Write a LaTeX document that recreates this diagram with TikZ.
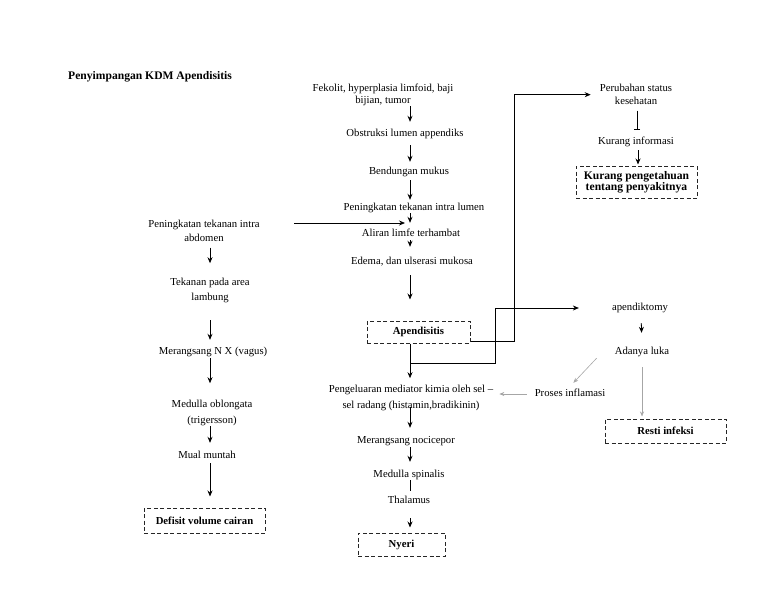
\documentclass[tikz,border=0pt]{standalone}
\usepackage{fontspec}
\setmainfont{Liberation Serif}
\usetikzlibrary{arrows.meta,calc}
\begin{document}
\begin{tikzpicture}[x=1pt,y=-1pt,
  txt/.style={inner sep=0pt, align=center, text height=7.5pt, text depth=2.5pt, anchor=base, font=\fontsize{10.7}{14}\selectfont},
  ml/.style={inner sep=0pt, align=center, anchor=north, font=\fontsize{10.7}{#1}\selectfont},
  arr/.style={-{Stealth[length=6pt,width=5pt]}, line width=0.8pt},
  ln/.style={line width=0.8pt},
  barr/.style={-{Bar[width=6pt,line width=0.8pt]}, line width=0.8pt},
  garr/.style={-{Stealth[length=5pt,width=4pt]}, line width=0.6pt, draw=black!35},
  dbox/.style={draw=black!85, dashed, dash pattern=on 4pt off 2.5pt, line width=1pt, inner sep=0pt, align=center, font=\bfseries\fontsize{10.7}{11}\selectfont},
]
\useasboundingbox (0,0) rectangle (768,594);

% title
\node[txt, anchor=base west, font=\bfseries\fontsize{11.6}{14}\selectfont] (title) at (68,79.5) {Penyimpangan KDM Apendisitis};

% centre column
\coordinate (cx) at (410,0);
\node[ml=12] (fek) at (383,84.2) {Fekolit, hyperplasia limfoid, baji\\bijian, tumor};
\node[txt] (obs) at (405,136.5) {Obstruksi lumen appendiks};
\node[txt] (bend) at (409,174.5) {Bendungan mukus};
\node[txt] (pil) at (414,210.5) {Peningkatan tekanan intra lumen};
\node[txt] (alf) at (411,236.5) {Aliran limfe terhambat};
\node[txt] (ede) at (412,264.5) {Edema, dan ulserasi mukosa};
\node[dbox, minimum width=103pt, minimum height=22pt] (apd) at (418.5,332) {Apendisitis};
\node[ml=16] (pmk) at (411,385.2) {Pengeluaran mediator kimia oleh sel --\\sel radang (histamin,bradikinin)};
\node[txt] (mno) at (406,443.5) {Merangsang nocicepor};
\node[txt] (msp) at (409,477.5) {Medulla spinalis};
\node[txt] (thl) at (409,503.5) {Thalamus};
\node[dbox, minimum width=87pt, minimum height=23pt] (nye) at (401.5,544.5) {Nyeri};

% left column
\coordinate (lx) at (210,0);
\node[ml=14] (pta) at (204,220.2) {Peningkatan tekanan intra\\abdomen};
\node[ml=15] (tpa) at (210,278.2) {Tekanan pada area\\lambung};
\node[txt] (mnx) at (213,354.5) {Merangsang N X (vagus)};
\node[ml=16] (mob) at (212,400.2) {Medulla oblongata\\(trigersson)};
\node[txt] (mmu) at (207,458.5) {Mual muntah};
\node[dbox, minimum width=121pt, minimum height=25pt] (dvc) at (204.5,520.5) {Defisit volume cairan};

% right column
\coordinate (rx) at (637,0);
\node[ml=13] (psk) at (636,84.2) {Perubahan status\\kesehatan};
\node[txt] (kin) at (636,144.5) {Kurang informasi};
\node[dbox, minimum width=121pt, minimum height=32pt, font=\bfseries\fontsize{11.6}{10.8}\selectfont] (kpt) at (636.5,182) {Kurang pengetahuan\\tentang penyakitnya};
\node[txt] (apk) at (640,310.5) {apendiktomy};
\node[txt] (adl) at (642,354.5) {Adanya luka};
\node[txt] (pin) at (570,396.5) {Proses inflamasi};
\node[dbox, minimum width=121pt, minimum height=24pt] (rin) at (665.5,431) {Resti infeksi};

% centre connectors
\draw[arr, shorten >=7pt] (fek.south -| cx) -- (obs.north -| cx);
\draw[arr, shorten <=6pt, shorten >=5pt] (obs.south -| cx) -- (bend.north -| cx);
\draw[arr, shorten <=3pt, shorten >=3pt] (bend.south -| cx) -- (pil.north -| cx);
\draw[arr, shorten >=6pt] (pil.south -| cx) -- (alf.north -| cx);
\draw[arr, shorten <=1pt, shorten >=10pt] (alf.south -| cx) -- (ede.north -| cx);
\draw[arr, shorten <=8pt, shorten >=21pt] (ede.south -| cx) -- (apd.north -| cx);
\draw[arr, shorten >=7pt] (apd.south -| cx) -- (pmk.north -| cx);
\draw[arr, shorten <=-4pt, shorten >=8pt] (pmk.south -| cx) -- (mno.north -| cx);
\draw[arr, shorten <=1pt, shorten >=8pt] (mno.south -| cx) -- (msp.north -| cx);
\draw[ln, shorten >=5pt] (msp.south -| cx) -- (thl.north -| cx);
\draw[arr, shorten <=12pt, shorten >=5pt] (thl.south -| cx) -- (nye.north -| cx);

% abdomen pressure into lumen flow
\coordinate (pa) at (294,223);
\draw[arr, shorten >=5pt] (pa) -- (pa -| cx);

% left connectors
\draw[arr, shorten <=5.5pt, shorten >=15pt] (pta.south -| lx) -- (tpa.north -| lx);
\draw[arr, shorten <=17pt, shorten >=7pt] (tpa.south -| lx) -- (mnx.north -| lx);
\draw[arr, shorten <=1pt, shorten >=17pt] (mnx.south -| lx) -- (mob.north -| lx);
\draw[arr, shorten >=8pt] (mob.south -| lx) -- (mmu.north -| lx);
\draw[arr, shorten <=2pt, shorten >=11pt] (mmu.south -| lx) -- (dvc.north -| lx);

% right connectors
\draw[barr, shorten <=5.5pt, shorten >=7pt] (psk.south -| rx) -- (kin.north -| rx);
\draw[arr, shorten <=3pt, shorten >=1pt] ([xshift=1pt]kin.south -| rx) -- ([xshift=1pt]kpt.north -| rx);
\draw[arr, shorten <=10pt, shorten >=14pt] ([xshift=1pt]apk.south) -- (adl.north);

% Apendisitis to Perubahan status
\coordinate (a1) at ($(apd.east)+(0,9)$);
\coordinate (r1) at (514,0);
\draw[arr, shorten >=9pt] (a1) -| (r1 |- psk.west) -- (psk.west);

% Apendisitis to apendiktomy
\coordinate (j1) at (410,363);
\coordinate (r2) at (495,0);
\draw[arr, shorten >=33pt] (j1) -| (r2 |- apk.west) -- (apk.west);

% grey connectors
\draw[garr] ($(adl.south west)+(-18,1)$) -- ($(pin.north east)+(-32,-6)$);
\draw[garr, shorten <=8pt, shorten >=6pt] (pin.west) -- (pin.west -| pmk.east);
\draw[garr, shorten <=10pt, shorten >=2pt] (adl.south) -- (rin.north -| adl.south);
\end{tikzpicture}
\end{document}
